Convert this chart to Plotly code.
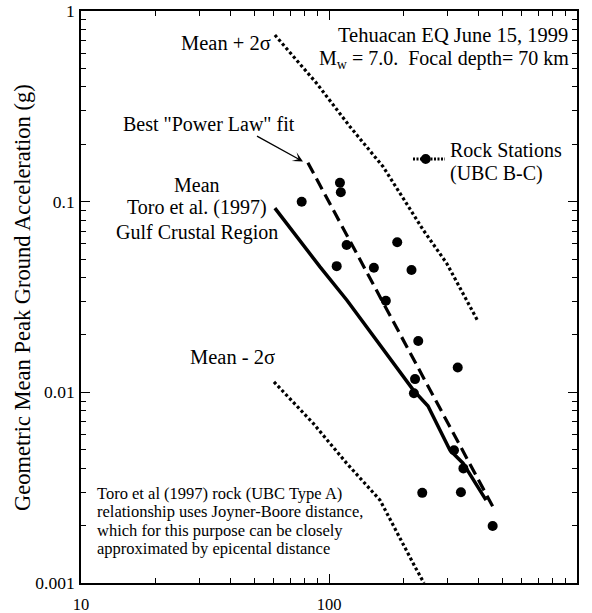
import plotly.graph_objects as go

# ---------------- data ----------------
station_dist = [77.6, 110.7, 111.6, 117.8, 188.4, 107.4, 151.7, 215.1, 169.5,
                229.0, 330.4, 222.3, 220.0, 319.2, 348.3, 237.7, 340.4, 457.0]
station_pga = [0.0999, 0.1257, 0.112, 0.0592, 0.0612, 0.0459, 0.0450, 0.0438, 0.0302,
               0.0186, 0.0135, 0.01173, 0.0099, 0.00497, 0.00399, 0.00297, 0.00299, 0.00199]

mean_dist = [60.5, 92.0, 117.9, 218.8, 250.7, 307.5, 347.0, 429.7]
mean_pga = [0.0925, 0.0455, 0.0305, 0.01027, 0.00847, 0.00497, 0.00425, 0.00272]

plus2_dist = [60.5, 89.1, 121.6, 165.6, 239.9, 298.5, 400.0]
plus2_pga = [0.748, 0.418, 0.247, 0.152, 0.0710, 0.0474, 0.0234]

minus2_dist = [60.0, 86.4, 117.9, 160.6, 222.3, 241.5]
minus2_pga = [0.01135, 0.00687, 0.00424, 0.00272, 0.001215, 0.001]

fit_dist = [82.2, 459.7]
fit_pga = [0.160, 0.00249]

x_ticks = [10, 100, 1000]
x_tick_labels = ["10", "100", "1000"]
y_ticks = [0.001, 0.01, 0.1, 1]
y_tick_labels = ["0.001", "0.01", "0.1", "1"]
x_minor = [m * d for d in (10, 100) for m in range(2, 10)]
y_minor = [m * d for d in (0.001, 0.01, 0.1) for m in range(2, 10)]

# ---------------- figure ----------------
W, H = 592, 613
L, R, T, B = 81, 15, 11, 30
FONT = "Liberation Serif, Times New Roman, serif"


def px(x):
    return (x - L) / (W - L - R)


def py(y):
    return (H - B - y) / (H - T - B)


fig = go.Figure()

fig.add_trace(go.Scatter(x=plus2_dist, y=plus2_pga, mode="lines",
                         line=dict(color="black", width=3.2, dash="3px,2.6px"),
                         showlegend=False, hoverinfo="skip"))
fig.add_trace(go.Scatter(x=minus2_dist, y=minus2_pga, mode="lines",
                         line=dict(color="black", width=3.2, dash="3px,2.6px"),
                         showlegend=False, hoverinfo="skip"))
fig.add_trace(go.Scatter(x=mean_dist, y=mean_pga, mode="lines",
                         line=dict(color="black", width=3.5),
                         showlegend=False))
fig.add_trace(go.Scatter(x=fit_dist, y=fit_pga, mode="lines",
                         line=dict(color="black", width=3.2, dash="12px,6px"),
                         showlegend=False))
fig.add_trace(go.Scatter(x=station_dist, y=station_pga, mode="markers",
                         marker=dict(color="black", size=10, line=dict(width=0)),
                         showlegend=False))

axis_common = dict(
    type="log", showgrid=False, zeroline=False, automargin=False,
    showline=True, linecolor="black", linewidth=1.6, mirror="allticks",
    ticks="inside", ticklen=9, tickwidth=1.2, tickcolor="black",
    tickfont=dict(family=FONT, size=17.5, color="black"),
)

fig.update_xaxes(**axis_common, range=[1, 3], tickmode="array",
                 tickvals=x_ticks, ticktext=x_tick_labels, ticklabelstandoff=5,
                 minor=dict(tickmode="array", tickvals=x_minor, ticks="inside",
                            ticklen=5, tickwidth=1, tickcolor="black", showgrid=False))
fig.update_xaxes(tickfont=dict(family=FONT, size=16.5, color="black"))
fig.update_yaxes(**axis_common, range=[-3, 0], tickmode="array",
                 tickvals=y_ticks, ticktext=y_tick_labels, ticklabelstandoff=1,
                 minor=dict(tickmode="array", tickvals=y_minor, ticks="inside",
                            ticklen=5, tickwidth=1, tickcolor="black", showgrid=False))

ann = []


def text(t, x, y, size=20, xanchor="left", yanchor="middle"):
    ann.append(dict(text=t, x=px(x), y=py(y), xref="paper", yref="paper",
                    xanchor=xanchor, yanchor=yanchor, showarrow=False,
                    font=dict(family=FONT, size=size, color="black")))


text("Tehuacan EQ June 15, 1999", 570, 35, size=20.5, xanchor="right")
text("M<sub>w</sub> = 7.0.  Focal depth= 70 km", 571, 60, xanchor="right")
text("Mean + 2σ", 273, 43, size=20.5, xanchor="right")
text('Best "Power Law" fit', 297, 124, xanchor="right")
text("Mean", 197, 185, xanchor="center")
text("Toro et al. (1997)", 197, 208, xanchor="center")
text("Gulf Crustal Region", 197, 232, xanchor="center")
text("Mean - 2σ", 277, 357, size=20.5, xanchor="right")
text("Rock Stations", 448, 150)
text("(UBC B-C)", 448, 173)

bottom_lines = ["Toro et al (1997) rock (UBC Type A)",
                "relationship uses Joyner-Boore distance,",
                "which for this purpose can be closely",
                "approximated by epicental distance"]
for i, line in enumerate(bottom_lines):
    text(line, 95, 493 + i * 18.5, size=16.5)

# y-axis title
ann.append(dict(text="Geometric Mean Peak Ground Acceleration (g)",
                x=px(22), y=py(298), xref="paper", yref="paper",
                xanchor="center", yanchor="middle", textangle=-90, showarrow=False,
                font=dict(family=FONT, size=22.5, color="black")))

# arrow to the power-law fit
ann.append(dict(text=" ", x=px(303), y=py(161.5), xref="paper", yref="paper",
                ax=255 - 303, ay=135 - 161.5, showarrow=True,
                arrowhead=3, arrowsize=1.3, arrowwidth=1.3, arrowcolor="black",
                font=dict(size=2)))

# legend sample (drawn manually)
shapes = [
    dict(type="line", xref="paper", yref="paper", x0=px(413), x1=px(445),
         y0=py(159), y1=py(159), line=dict(color="black", width=3, dash="2px,1.5px")),
    dict(type="circle", xref="paper", yref="paper",
         x0=px(420.7), x1=px(430.7), y0=py(154), y1=py(164),
         fillcolor="black", line=dict(color="black", width=0)),
]

fig.update_layout(
    width=W, height=H,
    margin=dict(l=L, r=R, t=T, b=B, autoexpand=False),
    paper_bgcolor="white", plot_bgcolor="white",
    showlegend=False,
    annotations=ann, shapes=shapes,
    font=dict(family=FONT, color="black"),
)

fig.write_html("out.html", config={"displayModeBar": False},
               post_script="document.body.style.margin='0';document.body.style.overflow='hidden';")
